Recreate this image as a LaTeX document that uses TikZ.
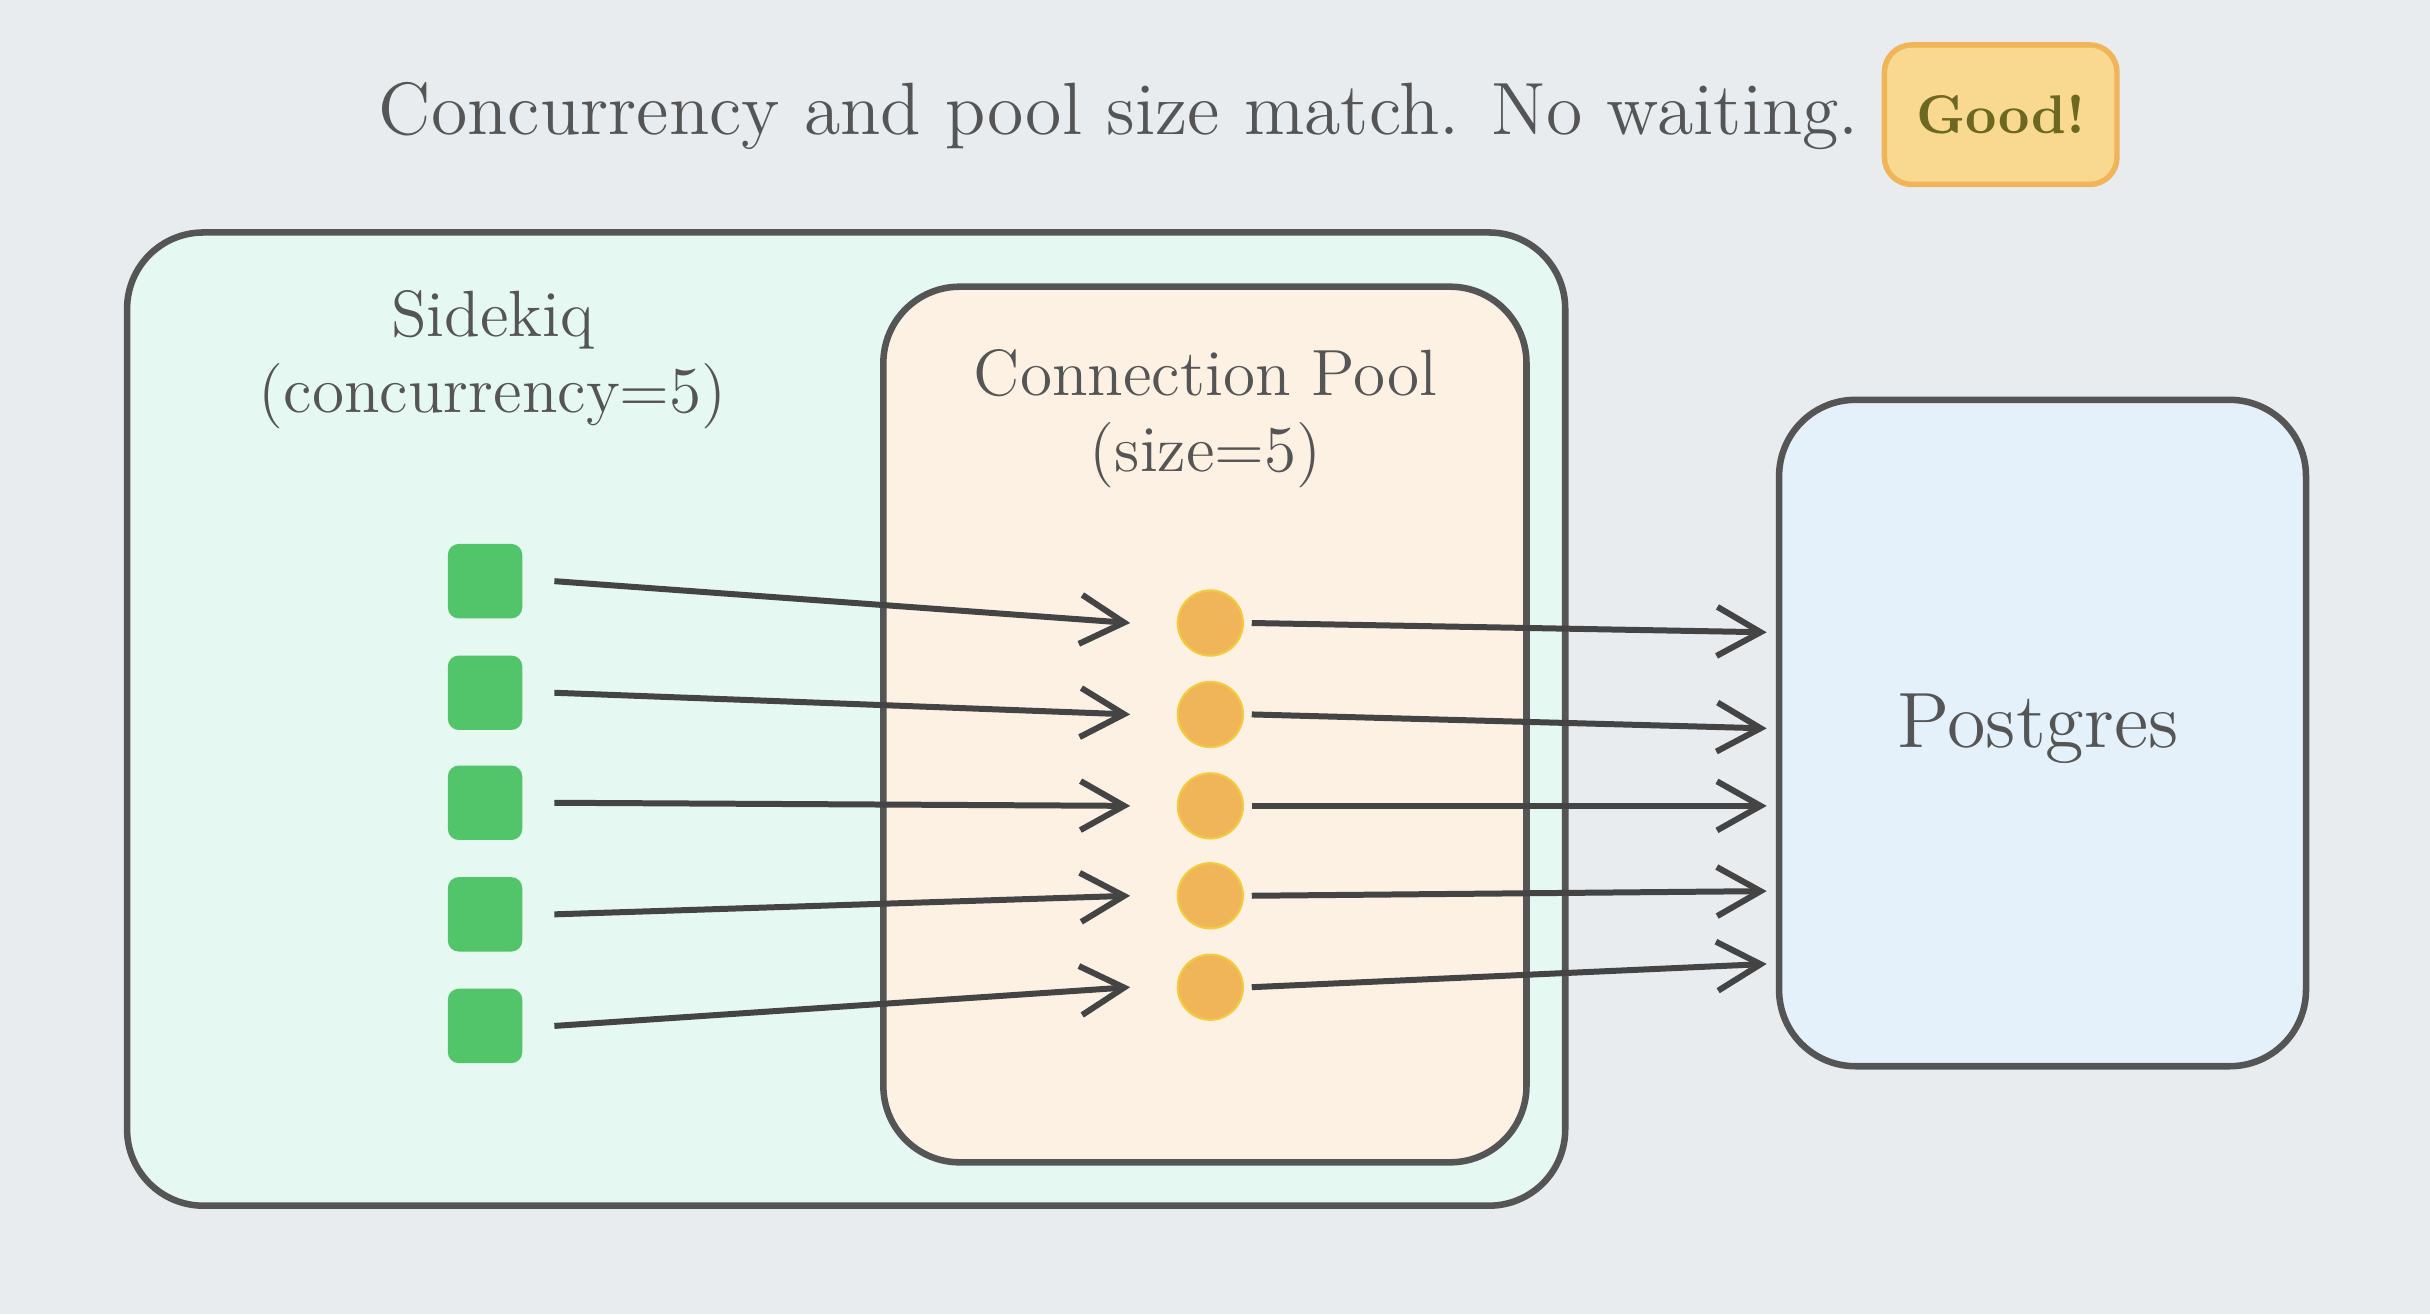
\documentclass[tikz,border=0pt]{standalone}
\usetikzlibrary{arrows.meta}
\definecolor{bg}{HTML}{E8ECEF}
\definecolor{sidefill}{HTML}{E5F8F1}
\definecolor{poolfill}{HTML}{FDF1E4}
\definecolor{pgfill}{HTML}{E4F1FB}
\definecolor{edge}{HTML}{555555}
\definecolor{worker}{HTML}{52C46A}
\definecolor{conn}{HTML}{F0B459}
\definecolor{badge}{HTML}{F8D98F}
\begin{document}
\begin{tikzpicture}[x=0.01cm,y=-0.01cm]
    \tikzstyle{box} = [draw=edge, line width=1.2pt, rounded corners=14pt];
    \tikzstyle{lbl} = [align=center, text=edge, font=\large];
    \tikzstyle{job} = [fill=worker, rounded corners=2pt, minimum size=0.48cm, inner sep=0pt];
    \tikzstyle{slot} = [circle, fill=conn, draw=conn!70!yellow, minimum size=0.42cm, inner sep=0pt];
    \tikzstyle{flow} = [-{Straight Barb[length=8pt,width=9pt]}, line width=1.1pt, draw=edge!80!black];
    \fill[bg] (0,0) rectangle (1568,848);

    \node[lbl, font=\fontsize{13.6}{16}\selectfont] (title) at (722,75) {Concurrency and pool size match. No waiting.};
    \node[draw=conn, line width=1pt, fill=badge, rounded corners=5pt, minimum width=1.5cm, minimum height=0.9cm, text=olive!70!black, font=\bfseries] (ok) at (1291,74) {Good!};

    \draw[box, fill=sidefill] (82,150) rectangle (1010,778);
    \node[lbl] (sidekiq) at (318,232) {Sidekiq\\(concurrency=5)};
    \draw[box, fill=poolfill] (570,185) rectangle (985,750);
    \node[lbl] (pool) at (778,270) {Connection Pool\\(size=5)};
    \draw[box, fill=pgfill] (1148,258) rectangle (1488,688);
    \node[lbl, font=\Large] (pg) at (1315,470) {Postgres};

    \foreach \i/\ys/\yc/\yp in {1/375/402/408, 2/447/461/470, 3/518/520/520, 4/590/578/575, 5/662/637/622} {
        \node[job] (w\i) at (313,\ys) {};
        \node[slot] (c\i) at (781,\yc) {};
        \coordinate (p\i) at (1140,\yp);
        \draw[flow] ([xshift=0.2cm]w\i.east) -- ([xshift=-0.3cm]c\i.west);
        \draw[flow] ([xshift=0.05cm]c\i.east) -- (p\i);
    }
\end{tikzpicture}
\end{document}
